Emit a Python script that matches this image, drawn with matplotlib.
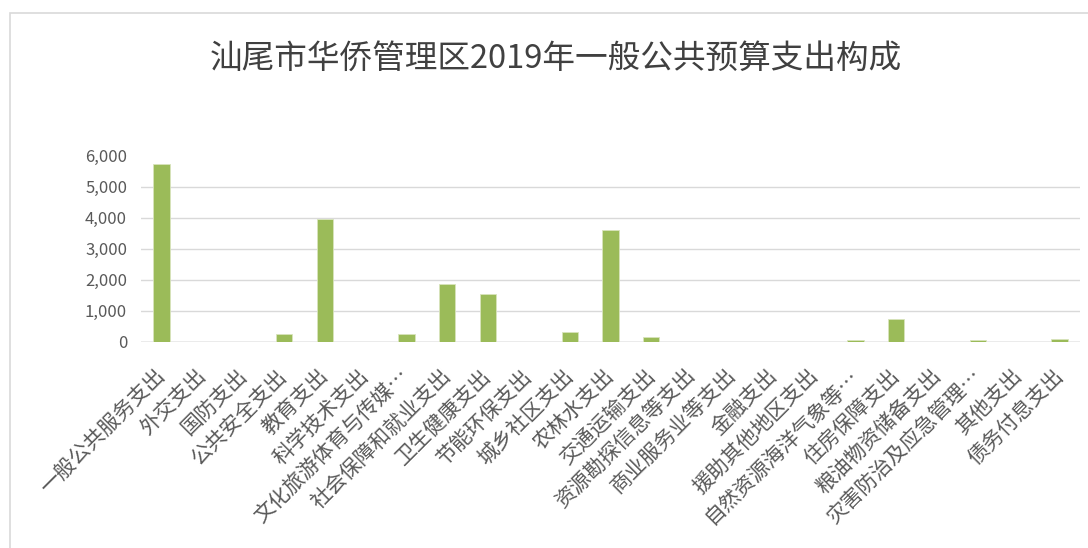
import matplotlib
matplotlib.use('Agg')
import matplotlib.pyplot as plt
import numpy as np

plt.rcParams['font.family'] = ['Noto Sans CJK SC', 'DejaVu Sans']

# categories and spending values
categories = ['一般公共服务支出', '外交支出', '国防支出', '公共安全支出', '教育支出',
              '科学技术支出', '文化旅游体育与传媒…', '社会保障和就业支出', '卫生健康支出',
              '节能环保支出', '城乡社区支出', '农林水支出', '交通运输支出',
              '资源勘探信息等支出', '商业服务业等支出', '金融支出', '援助其他地区支出',
              '自然资源海洋气象等…', '住房保障支出', '粮油物资储备支出',
              '灾害防治及应急管理…', '其他支出', '债务付息支出']
values = [5730, 0, 0, 260, 3950,
          0, 260, 1870, 1540,
          0, 310, 3610, 160,
          0, 0, 0, 0,
          60, 750, 0,
          60, 0, 105]
yticks = [0, 1000, 2000, 3000, 4000, 5000, 6000]
title = '汕尾市华侨管理区2019年一般公共预算支出构成'

fig = plt.figure(figsize=(10.88, 5.48), dpi=100)
ax = fig.add_axes([141 / 1088, 1 - 342 / 548, (1080 - 141) / 1088, (342 - 155.4) / 548])

# chart area border
border = plt.Rectangle((10 / 1088, -0.1), 1.2, 1 - 13 / 548 + 0.1, transform=fig.transFigure,
                       fill=False, edgecolor='#d9d9d9', linewidth=1.2)
fig.patches.append(border)

x = np.arange(len(categories))
ax.bar(x, values, width=0.4, color='#9bbb59', edgecolor='#d8e4bc', linewidth=0.6, zorder=3)

ax.set_xlim(-0.5, len(categories) - 0.5)
ax.set_ylim(0, 6000)
ax.set_yticks(yticks)
ax.set_yticklabels([f'{v:,}' for v in yticks], color='#595959', fontsize=12)
for v in yticks[1:-1]:
    ax.axhline(v, color='#d9d9d9', linewidth=1, zorder=1)
ax.axhline(0, color='#e8e8e8', linewidth=1.2, zorder=2)

ax.set_xticks(x)
ax.set_xticklabels(categories, rotation=45, ha='right', va='center',
                   rotation_mode='anchor', color='#595959', fontsize=15)
ax.tick_params(axis='both', length=0)
ax.tick_params(axis='x', pad=22)
ax.tick_params(axis='y', pad=10)
for s in ax.spines.values():
    s.set_visible(False)

fig.text(556 / 1088, 1 - 59 / 548, title, ha='center', va='center',
         fontsize=23.5, color='#404040')

plt.savefig('out.png', dpi=100)
